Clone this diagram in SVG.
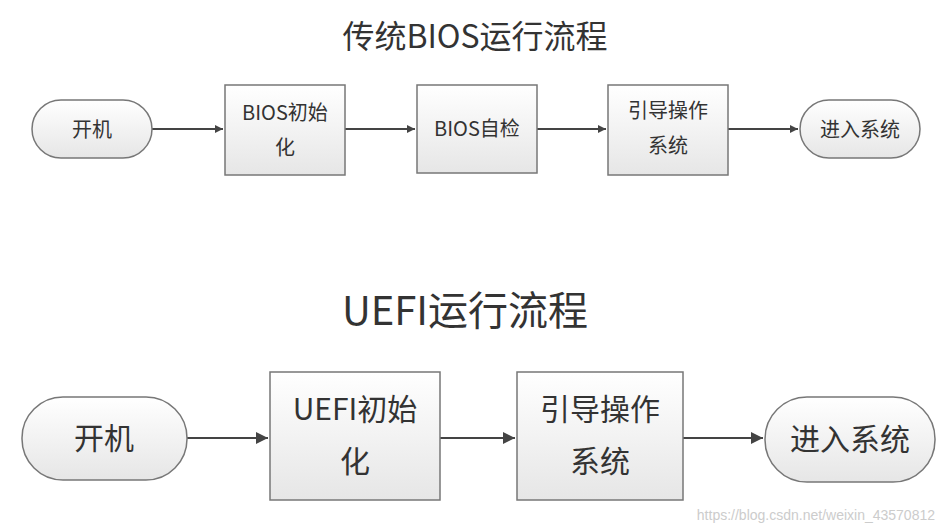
<svg xmlns="http://www.w3.org/2000/svg" width="947" height="530" viewBox="0 0 947 530">
<defs>
<linearGradient id="g" x1="0" y1="0" x2="0" y2="1"><stop offset="0" stop-color="#ffffff"/><stop offset="1" stop-color="#e6e6e6"/></linearGradient>
<marker id="a" viewBox="0 0 10 10" refX="10" refY="5" markerWidth="8" markerHeight="8" orient="auto" markerUnits="userSpaceOnUse"><path d="M0,0L10,5L0,10z" fill="#444"/></marker>
<marker id="b" viewBox="0 0 10 10" refX="10" refY="5" markerWidth="12" markerHeight="12" orient="auto" markerUnits="userSpaceOnUse"><path d="M0,0L10,5L0,10z" fill="#444"/></marker>
</defs>
<style>
.n{fill:url(#g);stroke:#777;stroke-width:1.5}
.t{font-family:"Noto Sans CJK SC","Liberation Sans",sans-serif;fill:#333;text-anchor:middle}
.s{font-size:20px}.l{font-size:30px}
.c{stroke:#444;stroke-width:2;fill:none}
</style>
<rect width="947" height="530" fill="#fff"/>
<text class="t" x="475" y="48" font-size="32">传统BIOS运行流程</text>
<text class="t" x="465" y="325" font-size="40">UEFI运行流程</text>
<g id="c">
<path class="c" d="M152,129H223" marker-end="url(#a)"/>
<path class="c" d="M345,129H415" marker-end="url(#a)"/>
<path class="c" d="M537,129H606" marker-end="url(#a)"/>
<path class="c" d="M728,129H798" marker-end="url(#a)"/>
<path class="c" d="M187,438H268" marker-end="url(#b)"/>
<path class="c" d="M440,438H515" marker-end="url(#b)"/>
<path class="c" d="M683,438H763" marker-end="url(#b)"/>
</g>
<g id="n1"><rect class="n" x="32" y="100" width="120" height="58" rx="29"/><text class="t s" x="92" y="137">开机</text></g>
<g id="n2"><rect class="n" x="225" y="85" width="120" height="90"/><text class="t s" x="285" y="120">BIOS初始</text><text class="t s" x="285" y="155">化</text></g>
<g id="n3"><rect class="n" x="417" y="85" width="120" height="88"/><text class="t s" x="477" y="136">BIOS自检</text></g>
<g id="n4"><rect class="n" x="608" y="85" width="120" height="90"/><text class="t s" x="668" y="118">引导操作</text><text class="t s" x="668" y="153">系统</text></g>
<g id="n5"><rect class="n" x="800" y="100" width="120" height="58" rx="29"/><text class="t s" x="860" y="137">进入系统</text></g>
<g id="m1"><rect class="n" x="22" y="397" width="165" height="83" rx="41"/><text class="t l" x="104" y="449">开机</text></g>
<g id="m2"><rect class="n" x="270" y="372" width="170" height="128"/><text class="t l" x="355" y="420">UEFI初始</text><text class="t l" x="355" y="472">化</text></g>
<g id="m3"><rect class="n" x="517" y="372" width="166" height="128"/><text class="t l" x="600" y="420">引导操作</text><text class="t l" x="600" y="472">系统</text></g>
<g id="m4"><rect class="n" x="765" y="397" width="170" height="85" rx="42"/><text class="t l" x="850" y="450">进入系统</text></g>
<text x="935" y="520" font-family="Liberation Sans,sans-serif" font-size="14" fill="#ccc" text-anchor="end">https://blog.csdn.net/weixin_43570812</text>
</svg>
